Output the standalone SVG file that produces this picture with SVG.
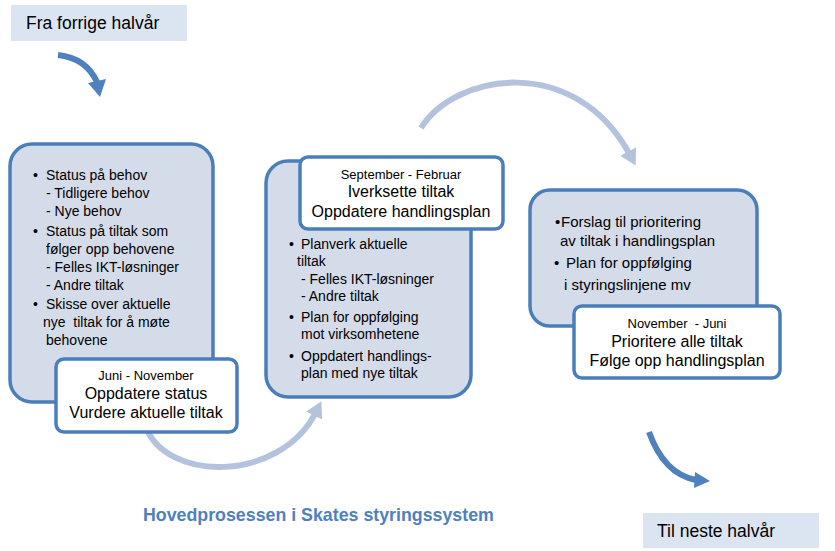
<svg xmlns="http://www.w3.org/2000/svg" width="835" height="551" viewBox="0 0 835 551">
<style>
.lbl{fill:#dbe5f1}
.lt{font-family:"Liberation Sans",Arial,sans-serif;font-size:17.5px;fill:#000}
.big{fill:#d5dce9;stroke:#4a7ebb;stroke-width:3.5}
.inner{fill:#fff;stroke:#4a7ebb;stroke-width:3.5}
.bt{font-family:"Liberation Sans",Arial,sans-serif;font-size:14px;fill:#000}
.bt3{font-family:"Liberation Sans",Arial,sans-serif;font-size:15px;fill:#000}
.it{font-family:"Liberation Sans",Arial,sans-serif;font-size:16px;fill:#000;text-anchor:middle}
.is{font-family:"Liberation Sans",Arial,sans-serif;font-size:13px;fill:#000;text-anchor:middle;white-space:pre}
.light{fill:none;stroke:#b4c3dd;stroke-width:6}
.dark{fill:none;stroke:#4f81bd;stroke-width:6}
.title{font-family:"Liberation Sans",Arial,sans-serif;font-size:17.8px;font-weight:bold;fill:#4f81bd}
</style>
<defs>
<marker id="lh" markerUnits="userSpaceOnUse" markerWidth="20" markerHeight="20" refX="4" refY="10" orient="auto" viewBox="0 0 20 20">
<path d="M0,1 L16,10 L0,19 Z" fill="#b4c3dd"/>
</marker>
</defs>
<g id="connectors">
<path class="light" d="M421,128 C455,73 575,53 630,155" marker-end="url(#lh)"/>
<path class="light" d="M145,425 C165,483 280,483 316,412" marker-end="url(#lh)"/>
<path class="dark" d="M58,55 Q86,58 97,82"/>
<polygon points="88,83 106,79 100,97" fill="#4f81bd"/>
<path class="dark" d="M649,432 Q664,474 696,480"/>
<polygon points="695,472 710,481 694,488" fill="#4f81bd"/>
</g>
<g id="from-prev">
<rect class="lbl" x="11" y="5" width="176" height="36"/>
<text class="lt" x="26" y="29">Fra forrige halvår</text>
</g>
<g id="to-next">
<rect class="lbl" x="643" y="513" width="176" height="35"/>
<text class="lt" x="657" y="537">Til neste halvår</text>
</g>
<g id="phase1">
<rect class="big" x="10" y="144" width="203" height="258" rx="22"/>
<text class="bt" x="33" y="180">•</text>
<text class="bt" x="46" y="180">Status på behov</text>
<text class="bt" x="46" y="198">- Tidligere behov</text>
<text class="bt" x="46" y="216">- Nye behov</text>
<text class="bt" x="33" y="236">•</text>
<text class="bt" x="46" y="236">Status på tiltak som</text>
<text class="bt" x="46" y="254">følger opp behovene</text>
<text class="bt" x="46" y="272">- Felles IKT-løsninger</text>
<text class="bt" x="46" y="290">- Andre tiltak</text>
<text class="bt" x="33" y="309">•</text>
<text class="bt" x="46" y="309">Skisse over aktuelle</text>
<text class="bt" x="43" y="327" style="white-space:pre">nye  tiltak for å møte</text>
<text class="bt" x="46" y="345">behovene</text>
<rect class="inner" x="56" y="359" width="181" height="73" rx="8"/>
<text class="is" x="146" y="380">Juni - November</text>
<text class="it" x="146" y="399">Oppdatere status</text>
<text class="it" x="146" y="418">Vurdere aktuelle tiltak</text>
</g>
<g id="phase2">
<rect class="big" x="266" y="161" width="205" height="236" rx="22"/>
<text class="bt" x="289" y="249">•</text>
<text class="bt" x="301" y="249">Planverk aktuelle</text>
<text class="bt" x="297" y="266">tiltak</text>
<text class="bt" x="301" y="284">- Felles IKT-løsninger</text>
<text class="bt" x="301" y="301">- Andre tiltak</text>
<text class="bt" x="289" y="322">•</text>
<text class="bt" x="301" y="322">Plan for oppfølging</text>
<text class="bt" x="301" y="339">mot virksomhetene</text>
<text class="bt" x="289" y="361">•</text>
<text class="bt" x="301" y="361">Oppdatert handlings-</text>
<text class="bt" x="301" y="378">plan med nye tiltak</text>
<rect class="inner" x="300" y="157" width="203" height="72" rx="8"/>
<text class="is" x="401" y="179">September - Februar</text>
<text class="it" x="401" y="197">Iverksette tiltak</text>
<text class="it" x="401" y="217">Oppdatere handlingsplan</text>
</g>
<g id="phase3">
<rect class="big" x="530" y="190" width="227" height="136" rx="20"/>
<text class="bt3" x="555" y="227">•</text>
<text class="bt3" x="561" y="227">Forslag til prioritering</text>
<text class="bt3" x="560" y="246">av tiltak i handlingsplan</text>
<text class="bt3" x="554" y="268">•</text>
<text class="bt3" x="566" y="268">Plan for oppfølging</text>
<text class="bt3" x="564" y="290">i styringslinjene mv</text>
<rect class="inner" x="574" y="306" width="206" height="72" rx="8"/>
<text class="is" x="677" y="328">November  - Juni</text>
<text class="it" x="677" y="347">Prioritere alle tiltak</text>
<text class="it" x="677" y="366">Følge opp handlingsplan</text>
</g>
<text class="title" x="143" y="521">Hovedprosessen i Skates styringssystem</text>
</svg>
